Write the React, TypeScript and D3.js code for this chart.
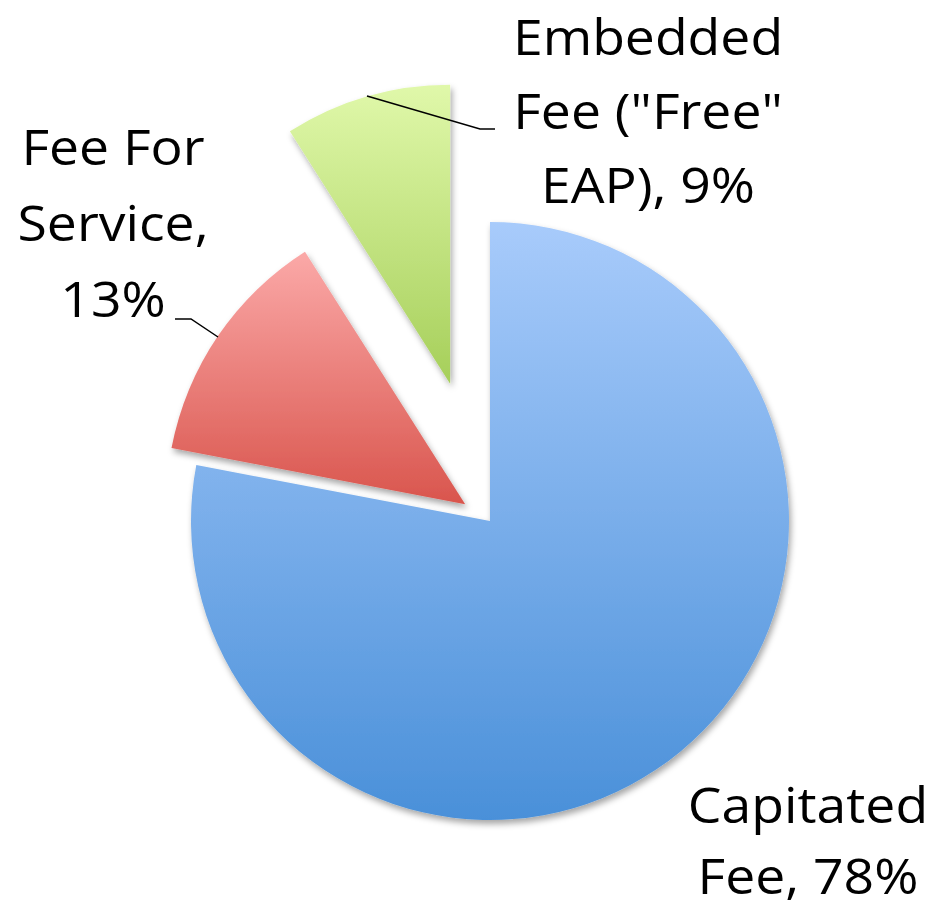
import React from "react";
import * as d3 from "d3";

const categories = ["Capitated Fee", "Fee For Service", "Embedded Fee (\"Free\" EAP)"];
const values = [78, 13, 9];
const labelLines = [
  ["Capitated", "Fee, 78%"],
  ["Fee For", "Service,", "13%"],
  ["Embedded", "Fee (\"Free\"", "EAP), 9%"],
];

const W = 940;
const H = 908;
const CX = 490;
const CY = 521;
const R = 299;
const explode = [0, 30, 143];
const gradTop = ["#a8cbfb", "#fba9a8", "#e0f8aa"];
const gradBot = ["#4a90d9", "#d9554d", "#a6cf5a"];
const labelPos = [
  { x: 808, y: 823, dy: 71 },
  { x: 113, y: 165, dy: 76 },
  { x: 648, y: 55, dy: 74 },
];
const leaders = [
  null,
  [[218, 337], [191, 319], [175, 319]],
  [[367, 96], [480, 129], [495, 129]],
];
const stretch = 1.07;

export default function App() {
  const pie = d3
    .pie<number>()
    .sort(null)
    .startAngle(0)
    .endAngle(2 * Math.PI)
    .value((d) => d);
  const arcs = pie(values);
  const arc = d3.arc<d3.PieArcDatum<number>>().innerRadius(0).outerRadius(R);
  const line = d3.line();

  return (
    <svg width={W} height={H} style={{ position: "absolute", left: 0, top: 0 }}>
      <defs>
        <filter id="shadow" x="-20%" y="-20%" width="140%" height="140%">
          <feDropShadow dx="2" dy="4" stdDeviation="3" floodColor="#000" floodOpacity="0.35" />
        </filter>
        {values.map((_, i) => (
          <linearGradient key={i} id={`g${i}`} x1="0" y1="0" x2="0" y2="1">
            <stop offset="0%" stopColor={gradTop[i]} />
            <stop offset="100%" stopColor={gradBot[i]} />
          </linearGradient>
        ))}
      </defs>
      <rect width={W} height={H} fill="#fff" />
      {arcs.map((a, i) => {
        const mid = (a.startAngle + a.endAngle) / 2;
        const dx = Math.sin(mid) * explode[i];
        const dy = -Math.cos(mid) * explode[i];
        return (
          <path
            key={categories[i]}
            d={arc(a) || ""}
            transform={`translate(${CX + dx},${CY + dy})`}
            fill={`url(#g${i})`}
            filter="url(#shadow)"
          />
        );
      })}
      {leaders.map((l, i) =>
        l ? (
          <path key={i} d={line(l as [number, number][]) || ""} fill="none" stroke="#000" strokeWidth={1.5} />
        ) : null
      )}
      {labelLines.map((lines, i) => (
        <text
          key={i}
          transform={`translate(${labelPos[i].x},0) scale(${stretch},1)`}
          fontFamily="'Open Sans', sans-serif"
          fontSize={50}
          fill="#000"
          textAnchor="middle"
        >
          {lines.map((t, j) => (
            <tspan key={j} x={0} y={labelPos[i].y + j * labelPos[i].dy}>
              {t}
            </tspan>
          ))}
        </text>
      ))}
    </svg>
  );
}
